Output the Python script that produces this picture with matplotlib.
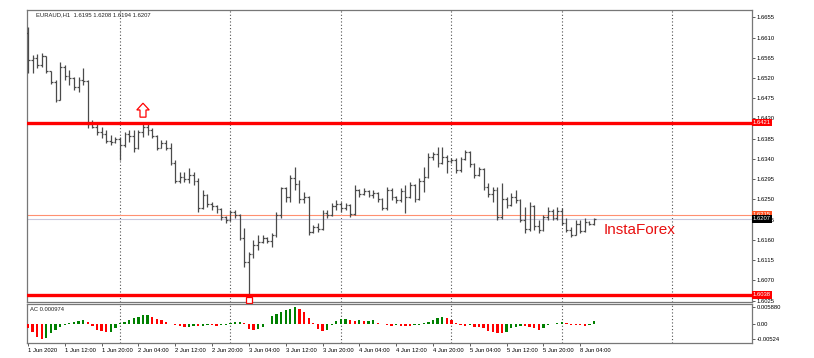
import matplotlib
matplotlib.use("Agg")
import matplotlib.pyplot as plt
from matplotlib.collections import LineCollection
from matplotlib.patches import FancyArrow
import numpy as np

plt.rcParams["font.family"] = ["Liberation Sans", "DejaVu Sans"]

TITLE = "EURAUD,H1  1.6195 1.6208 1.6194 1.6207"

# hourly bars, 1 Jun 2020 04:00 .. 8 Jun 2020 07:00
opens = [
    1.6620, 1.6560, 1.6565, 1.6550, 1.6568, 1.6535, 1.6512, 1.6472, 1.6545, 1.6525,
    1.6520, 1.6500, 1.6515, 1.6514, 1.6418, 1.6412, 1.6400, 1.6395, 1.6380, 1.6378,
    1.6384, 1.6372, 1.6395, 1.6390, 1.6365, 1.6400, 1.6412, 1.6405, 1.6392, 1.6365,
    1.6375, 1.6365, 1.6332, 1.6292, 1.6300, 1.6295, 1.6305, 1.6290, 1.6230, 1.6260,
    1.6240, 1.6235, 1.6228, 1.6210, 1.6205, 1.6222, 1.6215, 1.6165, 1.6110, 1.6128,
    1.6148, 1.6155, 1.6165, 1.6158, 1.6170, 1.6215, 1.6275, 1.6255, 1.6298, 1.6285,
    1.6250, 1.6255, 1.6178, 1.6188, 1.6185, 1.6220, 1.6215, 1.6235, 1.6240, 1.6230,
    1.6238, 1.6218, 1.6270, 1.6262, 1.6268, 1.6260, 1.6265, 1.6250, 1.6232, 1.6270,
    1.6255, 1.6248, 1.6268, 1.6255, 1.6282, 1.6250, 1.6290, 1.6300, 1.6345, 1.6350,
    1.6330, 1.6345, 1.6335, 1.6338, 1.6315, 1.6340, 1.6355, 1.6328, 1.6305, 1.6318,
    1.6278, 1.6262, 1.6270, 1.6210, 1.6250, 1.6238, 1.6255, 1.6248, 1.6205, 1.6185,
    1.6235, 1.6190, 1.6182, 1.6210, 1.6225, 1.6208, 1.6225, 1.6198, 1.6182, 1.6172,
    1.6195, 1.6180, 1.6200, 1.6195,
]
highs = [
    1.6633, 1.6571, 1.6573, 1.6575, 1.6570, 1.6535, 1.6516, 1.6555, 1.6549, 1.6538,
    1.6522, 1.6522, 1.6542, 1.6516, 1.6427, 1.6422, 1.6411, 1.6405, 1.6393, 1.6389,
    1.6389, 1.6400, 1.6405, 1.6405, 1.6405, 1.6422, 1.6418, 1.6409, 1.6394, 1.6382,
    1.6382, 1.6376, 1.6338, 1.6311, 1.6311, 1.6320, 1.6311, 1.6298, 1.6271, 1.6262,
    1.6244, 1.6238, 1.6231, 1.6213, 1.6227, 1.6227, 1.6217, 1.6187, 1.6133, 1.6160,
    1.6171, 1.6171, 1.6167, 1.6175, 1.6222, 1.6278, 1.6278, 1.6304, 1.6322, 1.6293,
    1.6266, 1.6258, 1.6193, 1.6198, 1.6227, 1.6227, 1.6242, 1.6249, 1.6244, 1.6242,
    1.6240, 1.6282, 1.6273, 1.6275, 1.6271, 1.6271, 1.6267, 1.6253, 1.6278, 1.6275,
    1.6258, 1.6275, 1.6282, 1.6289, 1.6285, 1.6298, 1.6322, 1.6353, 1.6356, 1.6367,
    1.6367, 1.6348, 1.6342, 1.6342, 1.6345, 1.6360, 1.6358, 1.6330, 1.6322, 1.6320,
    1.6286, 1.6278, 1.6278, 1.6286, 1.6255, 1.6264, 1.6271, 1.6251, 1.6233, 1.6244,
    1.6238, 1.6204, 1.6215, 1.6233, 1.6228, 1.6233, 1.6231, 1.6209, 1.6189, 1.6204,
    1.6204, 1.6209, 1.6202, 1.6208,
]
lows = [
    1.6531, 1.6531, 1.6542, 1.6545, 1.6531, 1.6507, 1.6467, 1.6471, 1.6516, 1.6505,
    1.6493, 1.6489, 1.6505, 1.6409, 1.6409, 1.6393, 1.6387, 1.6376, 1.6371, 1.6376,
    1.6338, 1.6367, 1.6378, 1.6356, 1.6362, 1.6389, 1.6393, 1.6387, 1.6360, 1.6364,
    1.6360, 1.6327, 1.6287, 1.6287, 1.6289, 1.6287, 1.6282, 1.6222, 1.6228, 1.6233,
    1.6227, 1.6220, 1.6204, 1.6198, 1.6202, 1.6209, 1.6160, 1.6100, 1.6039, 1.6120,
    1.6138, 1.6153, 1.6153, 1.6144, 1.6166, 1.6209, 1.6244, 1.6244, 1.6271, 1.6242,
    1.6242, 1.6171, 1.6175, 1.6178, 1.6183, 1.6209, 1.6213, 1.6227, 1.6222, 1.6227,
    1.6211, 1.6215, 1.6256, 1.6260, 1.6256, 1.6253, 1.6244, 1.6227, 1.6227, 1.6249,
    1.6242, 1.6244, 1.6220, 1.6253, 1.6244, 1.6249, 1.6267, 1.6298, 1.6338, 1.6322,
    1.6328, 1.6309, 1.6331, 1.6309, 1.6312, 1.6338, 1.6322, 1.6298, 1.6303, 1.6271,
    1.6255, 1.6244, 1.6204, 1.6207, 1.6231, 1.6236, 1.6242, 1.6200, 1.6175, 1.6180,
    1.6182, 1.6175, 1.6180, 1.6204, 1.6204, 1.6205, 1.6193, 1.6178, 1.6167, 1.6171,
    1.6175, 1.6178, 1.6193, 1.6194,
]
closes = [
    1.6560, 1.6565, 1.6550, 1.6568, 1.6535, 1.6512, 1.6472, 1.6545, 1.6525, 1.6520,
    1.6500, 1.6515, 1.6514, 1.6418, 1.6412, 1.6400, 1.6395, 1.6380, 1.6378, 1.6384,
    1.6372, 1.6395, 1.6390, 1.6365, 1.6400, 1.6412, 1.6405, 1.6392, 1.6365, 1.6375,
    1.6365, 1.6332, 1.6292, 1.6300, 1.6295, 1.6305, 1.6290, 1.6230, 1.6260, 1.6240,
    1.6235, 1.6228, 1.6210, 1.6205, 1.6222, 1.6215, 1.6165, 1.6110, 1.6128, 1.6148,
    1.6155, 1.6165, 1.6158, 1.6170, 1.6215, 1.6275, 1.6255, 1.6298, 1.6285, 1.6250,
    1.6255, 1.6178, 1.6188, 1.6185, 1.6220, 1.6215, 1.6235, 1.6240, 1.6230, 1.6238,
    1.6218, 1.6270, 1.6262, 1.6268, 1.6260, 1.6265, 1.6250, 1.6232, 1.6270, 1.6255,
    1.6248, 1.6268, 1.6255, 1.6282, 1.6250, 1.6290, 1.6300, 1.6345, 1.6350, 1.6330,
    1.6345, 1.6335, 1.6338, 1.6315, 1.6340, 1.6355, 1.6328, 1.6305, 1.6318, 1.6278,
    1.6262, 1.6270, 1.6210, 1.6250, 1.6238, 1.6255, 1.6248, 1.6205, 1.6185, 1.6235,
    1.6190, 1.6182, 1.6210, 1.6225, 1.6208, 1.6225, 1.6198, 1.6182, 1.6172, 1.6195,
    1.6180, 1.6200, 1.6195, 1.6207,
]

# Accelerator Oscillator values
ac_values = [
    -0.00150, -0.00290, -0.00430, -0.00524, -0.00480, -0.00320, -0.00220, -0.00110, -0.00040, 0.00020,
    0.00060, 0.00110, 0.00130, 0.00060, -0.00080, -0.00190, -0.00250, -0.00290, -0.00270, -0.00150,
    0.00020, 0.00070, 0.00150, 0.00210, 0.00250, 0.00290, 0.00310, 0.00250, 0.00170, 0.00120,
    0.00060, 0.00010, -0.00030, -0.00070, -0.00100, -0.00090, -0.00070, -0.00080, -0.00060, -0.00040,
    -0.00050, -0.00060, -0.00040, -0.00020, 0.00030, 0.00050, 0.00060, 0.00020, -0.00170, -0.00200,
    -0.00170, -0.00120, 0.00010, 0.00270, 0.00330, 0.00400, 0.00460, 0.00510, 0.00588, 0.00500,
    0.00400, 0.00200, 0.00040, -0.00170, -0.00250, -0.00190, -0.00040, 0.00100, 0.00170, 0.00180,
    0.00140, 0.00110, 0.00120, 0.00100, 0.00110, 0.00120, 0.00040, -0.00010, -0.00040, -0.00070,
    -0.00050, -0.00060, -0.00070, -0.00080, -0.00040, -0.00020, 0.00030, 0.00080, 0.00140, 0.00200,
    0.00250, 0.00210, 0.00120, 0.00020, -0.00040, -0.00060, -0.00050, -0.00090, -0.00100, -0.00130,
    -0.00230, -0.00280, -0.00310, -0.00320, -0.00260, -0.00150, -0.00100, -0.00070, -0.00080, -0.00090,
    -0.00130, -0.00200, -0.00130, -0.00050, -0.00010, 0.00030, 0.00070, 0.00030, -0.00020, -0.00040,
    -0.00050, -0.00060, -0.00020, 0.000974,
]

time_labels = [
    "1 Jun 2020", "1 Jun 12:00", "1 Jun 20:00", "2 Jun 04:00", "2 Jun 12:00", "2 Jun 20:00",
    "3 Jun 04:00", "3 Jun 12:00", "3 Jun 20:00", "4 Jun 04:00", "4 Jun 12:00", "4 Jun 20:00",
    "5 Jun 04:00", "5 Jun 12:00", "5 Jun 20:00", "8 Jun 04:00",
]
label_bars = [0, 8, 16, 24, 32, 40, 48, 56, 64, 72, 80, 88, 96, 104, 112, 120]
day_starts = [20, 44, 68, 92, 116, 140]

resistance = 1.6421
support = 1.6038
alert_level = 1.6215
last_close = 1.6207
arrow_bar = 25
low_mark_bar = 48

BAR_COLOR = "#4a4a4a"
GRID_COLOR = "#505050"
SPINE_COLOR = "#777777"
FS = 4.2

W, H = 814, 358
fig = plt.figure(figsize=(W / 100, H / 100), dpi=100)
ax = fig.add_axes([27 / W, 1 - 302 / H, 724.5 / W, 292 / H])
ac = fig.add_axes([27 / W, 1 - 342.7 / H, 724.5 / W, 38.7 / H])

n = len(closes)
idx = np.arange(n)

# OHLC bars
segs = []
for i in idx:
    segs.append([(i, lows[i]), (i, highs[i])])
    segs.append([(i - 0.4, opens[i]), (i, opens[i])])
    segs.append([(i, closes[i]), (i + 0.4, closes[i])])
ax.add_collection(LineCollection(segs, colors=BAR_COLOR, linewidths=0.9, zorder=3))

# levels
ax.axhline(resistance, color="#ff0000", lw=2.4, zorder=4)
ax.axhline(support, color="#ff0000", lw=2.4, zorder=4)
ax.axhline(alert_level, color="#ff9070", lw=0.8, zorder=2)
ax.axhline(last_close, color="#c8c8dc", lw=0.8, zorder=2)

ytr = ax.get_yaxis_transform()
box_style = "square,pad=0.22"
ax.text(1.002, alert_level + 0.00014, f"{alert_level:.4f}", transform=ytr, ha="left", va="center",
        fontsize=FS, color="white", bbox=dict(boxstyle=box_style, fc="#ff5020", ec="none"), zorder=5, clip_on=False)
ax.text(1.002, last_close, f"{last_close:.4f}", transform=ytr, ha="left", va="center",
        fontsize=FS, color="white", bbox=dict(boxstyle=box_style, fc="black", ec="none"), zorder=6, clip_on=False)
for lvl in (resistance, support):
    ax.text(1.002, lvl, f"{lvl:.4f}", transform=ytr, ha="left", va="center", fontsize=FS, color="white",
            bbox=dict(boxstyle=box_style, fc="#ff0000", ec="none"), zorder=6, clip_on=False)

# up arrow above the high
ax.add_patch(FancyArrow(arrow_bar, highs[arrow_bar] + 0.0011, 0, 0.0031, width=1.3, head_width=2.7,
                        head_length=0.0015, length_includes_head=True, fc="white", ec="#ff0000", lw=0.9, zorder=5))
# small square under the spike low
ax.plot(low_mark_bar, support - 0.0012, marker="s", ms=3.8, mfc="white", mec="#ff0000", mew=0.9,
        clip_on=False, zorder=7)

ax.text(125, 1.6173, "InstaForex", color="#e81010", fontsize=11, ha="left", va="baseline", zorder=6)
ax.text(0.0125, 0.984, TITLE, transform=ax.transAxes, fontsize=FS, color="#222222", ha="left", va="center")

ax.set_xlim(-0.2, 157.2)
ax.set_ylim(1.60219, 1.66713)
ax.set_yticks(np.arange(1.6025, 1.6656, 0.0045))
ax.yaxis.set_major_formatter(plt.FormatStrFormatter("%.4f"))
ax.yaxis.tick_right()
ax.tick_params(axis="y", labelsize=FS, length=2, width=0.6, pad=1.5, color="#444444")
ax.set_xticks([])

# AC histogram
ac_colors = ["#ff0000"] + ["#008000" if ac_values[i] > ac_values[i - 1] else "#ff0000" for i in range(1, n)]
ac.bar(idx, ac_values, width=0.5, color=ac_colors, zorder=3)
ac.set_xlim(-0.2, 157.2)
ac.set_ylim(-0.0064, 0.0068)
ac.set_yticks([max(ac_values), 0, min(ac_values)])
ac.set_yticklabels(["0.005880", "0.00", "-0.00524"])
ac.yaxis.tick_right()
ac.tick_params(axis="y", labelsize=FS, length=2, width=0.6, pad=1.5, color="#444444")
ac.set_xticks(label_bars)
ac.set_xticklabels(time_labels)
for lbl in ac.get_xticklabels():
    lbl.set_horizontalalignment("left")
ac.tick_params(axis="x", labelsize=FS, length=2.5, width=0.6, pad=1.5, color="#444444")
ac.text(0.004, 0.86, f"AC {ac_values[-1]:.6f}", transform=ac.transAxes, fontsize=FS,
        color="#222222", ha="left", va="center")

for a in (ax, ac):
    for d in day_starts:
        a.axvline(d, color=GRID_COLOR, ls=(0, (1, 2)), lw=0.8, zorder=1)
    for sp in a.spines.values():
        sp.set_color(SPINE_COLOR)
        sp.set_linewidth(0.9)

fig.savefig("out.png", dpi=100, facecolor="white")
